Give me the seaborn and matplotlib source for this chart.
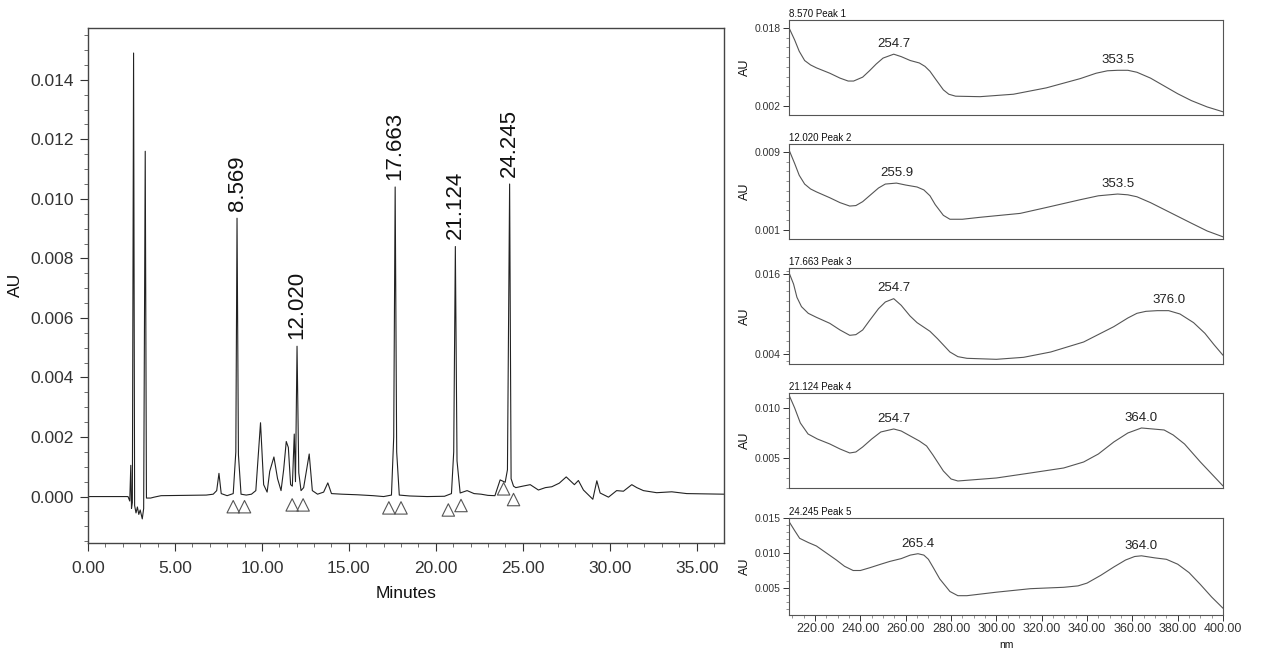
import matplotlib
matplotlib.use('Agg')
import matplotlib.pyplot as plt
import seaborn as sns
from matplotlib.ticker import MultipleLocator, FormatStrFormatter, FixedLocator

# chromatogram trace (minutes, AU)
chrom_time = [0.0, 2.30, 2.40, 2.46, 2.50, 2.55, 2.62, 2.68, 2.76, 2.84, 2.92, 3.00, 3.12, 3.20,
              3.29, 3.36, 3.60, 3.80, 4.20, 5.50, 6.80, 7.20, 7.40, 7.53, 7.66, 8.00, 8.35, 8.50,
              8.569, 8.65, 8.80, 9.10, 9.40, 9.65, 9.92, 10.10, 10.30, 10.45, 10.69, 10.90, 11.10,
              11.25, 11.40, 11.52, 11.65, 11.75, 11.86, 11.93, 12.02, 12.12, 12.25, 12.40, 12.72,
              12.90, 13.20, 13.55, 13.79, 14.00, 14.60, 15.50, 16.40, 17.00, 17.45, 17.58, 17.663,
              17.75, 17.90, 18.50, 19.50, 20.50, 20.90, 21.03, 21.124, 21.22, 21.40, 21.80, 22.20,
              22.60, 23.00, 23.40, 23.70, 23.99, 24.12, 24.245, 24.33, 24.47, 24.60, 25.00, 25.43,
              25.90, 26.30, 26.67, 27.10, 27.50, 27.97, 28.20, 28.49, 29.03, 29.26, 29.45, 29.93,
              30.40, 30.79, 31.27, 31.56, 31.94, 32.70, 33.57, 34.43, 36.57]
chrom_au = [0.0, 0.0, -0.00015, 0.00105, -0.00040, -0.00020, 0.01490, -0.00030, -0.00055, -0.00035,
            -0.00060, -0.00045, -0.00075, -0.00040, 0.01160, -0.00005, -0.00005, -0.00002, 0.00003,
            0.00004, 0.00005, 0.00008, 0.00020, 0.00078, 0.00010, 0.00003, 0.00010, 0.00150, 0.00935,
            0.00140, 0.00008, 0.00005, 0.00008, 0.00020, 0.00248, 0.00040, 0.00015, 0.00085, 0.00133,
            0.00060, 0.00020, 0.00090, 0.00185, 0.00165, 0.00040, 0.00035, 0.00210, 0.00050, 0.00505,
            0.00080, 0.00020, 0.00030, 0.00143, 0.00020, 0.00008, 0.00015, 0.00046, 0.00010, 0.00008,
            0.00006, 0.00003, 0.0, 0.00005, 0.00200, 0.01040, 0.00150, 0.00005, 0.00002, 0.0, 0.00001,
            0.00010, 0.00150, 0.00840, 0.00120, 0.00012, 0.00020, 0.00010, 0.00008, 0.00004, 0.00003,
            0.00056, 0.00048, 0.00090, 0.01050, 0.00060, 0.00035, 0.00030, 0.00035, 0.00040, 0.00022,
            0.00030, 0.00033, 0.00045, 0.00066, 0.00040, 0.00054, 0.00022, -0.00009, 0.00053, 0.00012,
            -0.00002, 0.00020, 0.00018, 0.00040, 0.00030, 0.00020, 0.00013, 0.00016, 0.00010, 0.00008]

# labelled peaks
peak_rt = [8.569, 12.020, 17.663, 21.124, 24.245]
peak_height = [0.00935, 0.00505, 0.01040, 0.00840, 0.01050]
peak_text = ['8.569', '12.020', '17.663', '21.124', '24.245']

# integration start/end markers
mark_time = [8.35, 9.00, 11.74, 12.37, 17.30, 18.00, 20.72, 21.45, 23.90, 24.47]
mark_au = [-0.00034, -0.00034, -0.00028, -0.00028, -0.00038, -0.00038, -0.00045, -0.00030,
           0.00026, -0.00010]

# UV spectra of the five peaks
peak1_nm = [208.5, 211, 213, 215.4, 218, 220.6, 226.5, 231, 234.6, 237, 241, 244, 247, 250, 254.7,
            258, 262, 266, 268.5, 270.7, 273, 276.6, 279, 282, 292.8, 307.5, 322, 337, 344, 349,
            353.5, 358, 362, 368, 374, 380, 386, 393, 400]
peak1_au = [0.0180, 0.0155, 0.0132, 0.0113, 0.0104, 0.0098, 0.0087, 0.0077, 0.0071, 0.0071, 0.0079,
            0.0092, 0.0106, 0.0118, 0.0126, 0.0121, 0.0113, 0.0108, 0.0101, 0.0091, 0.0076, 0.0053,
            0.0044, 0.0040, 0.0039, 0.0044, 0.0057, 0.0076, 0.0087, 0.0092, 0.0093, 0.0093, 0.0089,
            0.0077, 0.0061, 0.0045, 0.0031, 0.0018, 0.0008]
peak2_nm = [208.5, 211, 213, 215.4, 218, 220.6, 226.5, 231, 235.3, 238, 241, 244, 248, 251, 255.9,
            260, 265, 268, 270.7, 273, 276.6, 279.5, 285, 292.8, 310.5, 322, 337, 345, 353.5, 358,
            362, 368, 374, 380, 386, 393, 400]
peak2_au = [0.0092, 0.0078, 0.0066, 0.0057, 0.0052, 0.0049, 0.0043, 0.0038, 0.00345, 0.0035, 0.0039,
            0.0045, 0.0053, 0.0057, 0.0058, 0.0056, 0.0054, 0.0051, 0.0045, 0.0036, 0.0025, 0.0021,
            0.0021, 0.0023, 0.0027, 0.0033, 0.0041, 0.0045, 0.00468, 0.0046, 0.0044, 0.0038, 0.0031,
            0.0024, 0.0017, 0.0009, 0.0003]
peak3_nm = [208.5, 210.5, 212, 214, 217, 220.6, 226.5, 231, 235.3, 238, 241, 244, 248, 251, 254.7,
            258, 261.9, 265, 270.7, 274, 279.5, 283, 287, 300, 312, 324, 338.5, 351.8, 358, 362, 366,
            371, 376, 381, 387, 392, 396, 400]
peak3_au = [0.0162, 0.0145, 0.0125, 0.0111, 0.0101, 0.0095, 0.0086, 0.0076, 0.0068, 0.0069, 0.0076,
            0.0090, 0.0108, 0.0118, 0.0123, 0.0113, 0.0097, 0.0087, 0.0074, 0.0063, 0.0043, 0.0036,
            0.00335, 0.0032, 0.0035, 0.0043, 0.0058, 0.0081, 0.0094, 0.0101, 0.0104, 0.0105, 0.0105,
            0.0100, 0.0087, 0.0071, 0.0054, 0.0038]
peak4_nm = [208.5, 211, 213.5, 216.9, 221, 226.5, 231, 235.3, 238, 241, 245, 249, 254.7, 258, 262,
            266, 269.2, 272, 276.6, 280, 283, 300, 315, 329.7, 338.5, 345, 351.8, 358, 364, 369, 374,
            378, 383, 390, 395, 400]
peak4_au = [0.0113, 0.0100, 0.0085, 0.0074, 0.0069, 0.0064, 0.0059, 0.0055, 0.0056, 0.0061, 0.0069,
            0.0076, 0.0079, 0.0077, 0.0072, 0.0067, 0.0062, 0.0053, 0.0037, 0.0029, 0.0027, 0.0030,
            0.0035, 0.0040, 0.0046, 0.0054, 0.0066, 0.0075, 0.0080, 0.0079, 0.0078, 0.0073, 0.0064,
            0.0046, 0.0034, 0.0022]
peak5_nm = [208.5, 211, 213.2, 217, 220.6, 225, 229.4, 233, 236.8, 240, 244.2, 249, 253, 258, 262,
            265.4, 268, 270, 272, 275, 279.5, 283, 287, 300, 315, 329.7, 336, 340, 346, 351.8, 357,
            361, 364, 370, 375, 380, 385, 390, 395, 400]
peak5_au = [0.0145, 0.0132, 0.0121, 0.0115, 0.0110, 0.0100, 0.0090, 0.0081, 0.0075, 0.0075, 0.0079,
            0.0084, 0.0088, 0.0092, 0.0097, 0.0099, 0.0097, 0.0091, 0.0080, 0.0063, 0.0045, 0.0039,
            0.0039, 0.0044, 0.0049, 0.0051, 0.0053, 0.0057, 0.0068, 0.0080, 0.0090, 0.0095, 0.0096,
            0.0093, 0.0091, 0.0084, 0.0072, 0.0055, 0.0037, 0.0021]

spec_titles = ['8.570 Peak 1', '12.020 Peak 2', '17.663 Peak 3', '21.124 Peak 4', '24.245 Peak 5']
spec_maxima = [[254.7, 353.5], [255.9, 353.5], [254.7, 376.0], [254.7, 364.0], [265.4, 364.0]]
spec_max_au = [[0.0126, 0.0093], [0.0058, 0.00468], [0.0123, 0.0105], [0.0079, 0.0080],
               [0.0099, 0.0096]]
spec_yticks = [[0.002, 0.018], [0.001, 0.009], [0.004, 0.016], [0.005, 0.010], [0.005, 0.010, 0.015]]
spec_ylim = [(0.00015, 0.0196), (0.00008, 0.0098), (0.0025, 0.0169), (0.0020, 0.0115),
             (0.00114, 0.0150)]
spec_minor = [0.002, 0.001, 0.0015, 0.001, 0.001]

sns.set_style('ticks')
plt.rcParams['font.family'] = ['Liberation Sans', 'DejaVu Sans']
ink = '#333333'

fig = plt.figure(figsize=(12.61, 6.53), dpi=100)

# ---- chromatogram
ax = fig.add_axes([0.0698, 0.1689, 0.5043, 0.7882])
sns.lineplot(x=chrom_time, y=chrom_au, ax=ax, color='#222222', linewidth=0.8, estimator=None)
sns.scatterplot(x=mark_time, y=mark_au, ax=ax, marker='^', s=80, facecolor='none',
                edgecolor='#555555', linewidth=0.8, zorder=3)
for t, h, s in zip(peak_rt, peak_height, peak_text):
    ax.text(t, h + 0.00025, s, rotation=90, ha='center', va='bottom', fontsize=16, color='#111111')
ax.set_xlim(0, 36.57)
ax.set_ylim(-0.00155, 0.01574)
ax.xaxis.set_major_locator(MultipleLocator(5))
ax.xaxis.set_minor_locator(MultipleLocator(1))
ax.yaxis.set_major_locator(MultipleLocator(0.002))
ax.yaxis.set_minor_locator(MultipleLocator(0.0005))
ax.xaxis.set_major_formatter(FormatStrFormatter('%.2f'))
ax.yaxis.set_major_formatter(FormatStrFormatter('%.3f'))
ax.tick_params(which='major', length=6, width=0.8, labelsize=12.5, colors=ink, pad=4)
ax.tick_params(which='minor', length=3, width=0.6, colors='#555555')
ax.tick_params(axis='x', which='major', pad=7)
ax.set_xlabel('Minutes', fontsize=12.5, color='#111111')
ax.set_ylabel('AU', fontsize=12.5, color='#111111')
ax.xaxis.set_label_coords(0.5, -0.085)
ax.yaxis.set_label_coords(-0.102, 0.5)
for sp in ax.spines.values():
    sp.set_visible(True)
    sp.set_color('#444444')
    sp.set_linewidth(1.0)

# ---- spectra
spec_nm = [peak1_nm, peak2_nm, peak3_nm, peak4_nm, peak5_nm]
spec_au = [peak1_au, peak2_au, peak3_au, peak4_au, peak5_au]
panel_bottom = [0.8239, 0.6340, 0.4426, 0.2527, 0.0582]
panel_height = [0.1455, 0.1455, 0.1470, 0.1455, 0.1485]

for i in range(5):
    sx = fig.add_axes([0.6257, panel_bottom[i], 0.3442, panel_height[i]])
    sns.lineplot(x=spec_nm[i], y=spec_au[i], ax=sx, color='#555555', linewidth=0.8, estimator=None)
    for wl, a in zip(spec_maxima[i], spec_max_au[i]):
        sx.annotate(f'{wl:.1f}', (wl, a), xytext=(0, 3), textcoords='offset points',
                    ha='center', va='bottom', fontsize=9.5, color='#222222')
    sx.set_xlim(208.5, 400)
    sx.set_ylim(*spec_ylim[i])
    sx.yaxis.set_major_locator(FixedLocator(spec_yticks[i]))
    sx.yaxis.set_minor_locator(MultipleLocator(spec_minor[i]))
    sx.yaxis.set_major_formatter(FormatStrFormatter('%.3f'))
    sx.tick_params(axis='y', which='major', length=4.5, width=0.7, labelsize=7.5, colors=ink, pad=1.5)
    sx.tick_params(axis='y', which='minor', length=2.5, width=0.5, colors='#666666')
    sx.set_ylabel('AU', fontsize=9, color='#111111')
    sx.yaxis.set_label_coords(-0.088, 0.5)
    sx.text(0.0, 1.01, spec_titles[i], transform=sx.transAxes, ha='left', va='bottom',
            fontsize=7, color='#111111')
    if i < 4:
        sx.set_xticks([])
        sx.set_xlabel('')
    else:
        sx.xaxis.set_major_locator(MultipleLocator(20))
        sx.xaxis.set_minor_locator(MultipleLocator(5))
        sx.xaxis.set_major_formatter(FormatStrFormatter('%.2f'))
        sx.tick_params(axis='x', which='major', length=4, width=0.7, labelsize=9, colors=ink, pad=2)
        sx.tick_params(axis='x', which='minor', length=2.5, width=0.5, colors='#666666')
        sx.set_xlabel('nm', fontsize=7.5, color='#111111')
        sx.xaxis.set_label_coords(0.5, -0.255)
    for sp in sx.spines.values():
        sp.set_visible(True)
        sp.set_color('#555555')
        sp.set_linewidth(0.8)

fig.savefig('out.png', dpi=100)
